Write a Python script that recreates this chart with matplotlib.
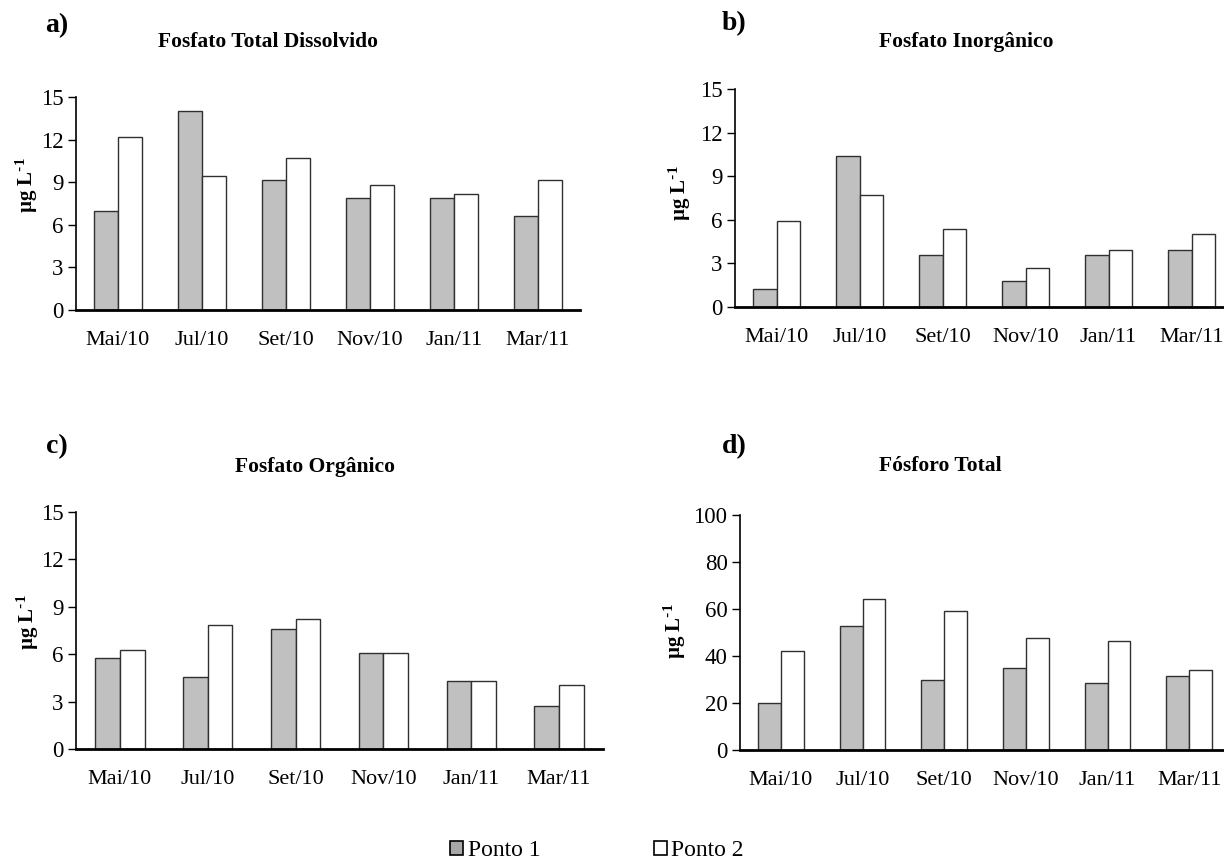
import numpy as np
import matplotlib
matplotlib.use('Agg')
import matplotlib.pyplot as plt
from matplotlib.patches import Patch

plt.rcParams['font.family'] = ['Liberation Serif', 'DejaVu Serif']
plt.rcParams['mathtext.default'] = 'regular'

# Sampling campaigns and phosphorus fractions (µg/L) at the two points
meses = ['Mai/10', 'Jul/10', 'Set/10', 'Nov/10', 'Jan/11', 'Mar/11']

ftd_p1 = [7.0, 14.0, 9.15, 7.9, 7.9, 6.65]
ftd_p2 = [12.2, 9.45, 10.7, 8.8, 8.2, 9.15]

fi_p1 = [1.25, 10.4, 3.55, 1.8, 3.55, 3.9]
fi_p2 = [5.9, 7.7, 5.4, 2.65, 3.9, 5.05]

fo_p1 = [5.75, 4.55, 7.6, 6.1, 4.3, 2.75]
fo_p2 = [6.25, 7.85, 8.25, 6.1, 4.3, 4.05]

pt_p1 = [20.0, 52.6, 30.0, 34.8, 28.3, 31.5]
pt_p2 = [42.3, 64.2, 59.3, 47.8, 46.2, 34.2]

W, H = 1224, 867
fig = plt.figure(figsize=(W / 100, H / 100), dpi=100)

cor_p1 = '#c0c0c0'
cor_p2 = 'white'
borda = '#303030'
larg = 0.28


def px(x, y):
    # pixel position -> figure fraction
    return x / W, 1 - y / H


def painel(box, p1, p2, ymax, step, letra, titulo, letra_xy, titulo_xy, ylab_xy):
    l, t, r, b = box
    ax = fig.add_axes([l / W, 1 - b / H, (r - l) / W, (b - t) / H])
    x = np.arange(len(meses))
    ax.bar(x - larg / 2, p1, larg, color=cor_p1, edgecolor=borda, linewidth=1.0)
    ax.bar(x + larg / 2, p2, larg, color=cor_p2, edgecolor=borda, linewidth=1.0)
    ax.set_xlim(-0.5, len(meses) - 0.5)
    ax.set_ylim(0, ymax)
    ax.set_yticks(np.arange(0, ymax + 1, step))
    ax.set_xticks(x)
    ax.set_xticklabels(meses)
    ax.tick_params(axis='x', length=0, pad=15, labelsize=16)
    ax.tick_params(axis='y', length=6, width=1, pad=3, labelsize=16.5)
    for s in ['top', 'right']:
        ax.spines[s].set_visible(False)
    ax.spines['left'].set_linewidth(1.2)
    ax.spines['bottom'].set_linewidth(2)
    ax.spines['left'].set_bounds(0, ymax)

    fig.text(*px(*letra_xy), letra, fontsize=20, fontweight='bold',
             ha='center', va='center')
    fig.text(*px(*titulo_xy), titulo, fontsize=15.5, fontweight='bold',
             ha='center', va='center')
    fig.text(*px(*ylab_xy), r'µg L$^{\text{-}1}$', fontsize=15, fontweight='bold',
             rotation=90, ha='center', va='center')
    return ax


painel((76, 97, 580, 310), ftd_p1, ftd_p2, 15, 3, 'a)', 'Fosfato Total Dissolvido',
       (57, 26), (268, 42), (27, 185))
painel((735, 89, 1233, 307), fi_p1, fi_p2, 15, 3, 'b)', 'Fosfato Inorgânico',
       (734, 24), (966, 42), (680, 193))
painel((76, 512, 603, 749), fo_p1, fo_p2, 15, 3, 'c)', 'Fosfato Orgânico',
       (57, 447), (315, 467), (28, 622))
painel((740, 515, 1230, 750), pt_p1, pt_p2, 100, 20, 'd)', 'Fósforo Total',
       (734, 447), (940, 466), (675, 631))

handles = [Patch(facecolor='#a8a8a8', edgecolor='black', linewidth=1.2),
           Patch(facecolor='white', edgecolor='black', linewidth=1.2)]
fig.legend(handles, ['Ponto 1', 'Ponto 2'], loc='center', bbox_to_anchor=px(597, 851),
           ncol=2, frameon=False, fontsize=17, handlelength=0.55, handleheight=0.55,
           handletextpad=0.2, columnspacing=4.8, borderpad=0)

fig.savefig('out.png', dpi=100)
